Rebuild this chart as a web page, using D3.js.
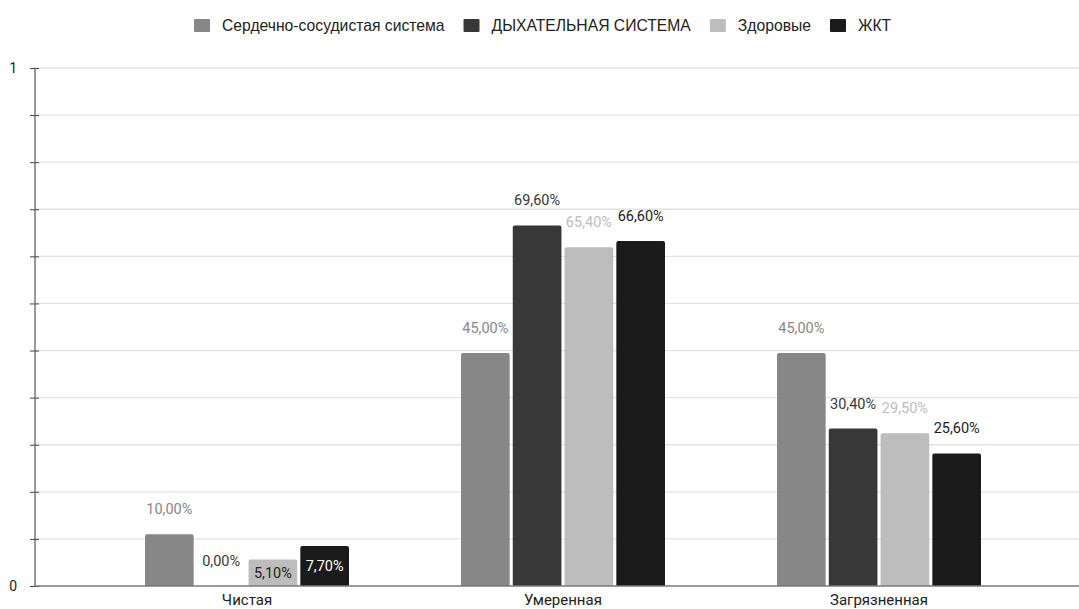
<!DOCTYPE html>
<html>
<head>
<meta charset="utf-8">
<script src="https://cdn.jsdelivr.net/npm/d3@7/dist/d3.min.js"></script>
<style>
  html, body { margin: 0; padding: 0; background: #fff; }
  svg { display: block; }
</style>
</head>
<body>
<svg id="chart" width="1079" height="609"></svg>
<script>
// Air quality zones
const categories = ["Чистая", "Умеренная", "Загрязненная"];
// Series (disease groups)
const seriesNames = ["Сердечно-сосудистая система", "ДЫХАТЕЛЬНАЯ СИСТЕМА", "Здоровые", "ЖКТ"];
const seriesColors = ["#878787", "#383838", "#bdbdbd", "#1b1b1b"];
// Shares per zone, one array per series
const cardio = [0.100, 0.450, 0.450];
const respiratory = [0.000, 0.696, 0.304];
const healthy = [0.051, 0.654, 0.295];
const digestive = [0.077, 0.666, 0.256];
const seriesValues = [cardio, respiratory, healthy, digestive];
const yTickLabels = ["0", "1"];
const yGridCount = 11;

const svg = d3.select("#chart");
const W = 1079, H = 609;
const margin = { left: 35, top: 68, bottom: 23 };
const plotBottom = H - margin.bottom;

const y = d3.scaleLinear().domain([0, 1]).range([plotBottom, margin.top]);
const x0 = d3.scaleBand().domain(categories).range([89, 1037]).paddingInner(0).paddingOuter(0);
const groupWidth = 204;
const x1 = d3.scaleBand().domain(seriesNames).range([0, groupWidth]).paddingInner(0.06).paddingOuter(0);

// gridlines
const gridVals = d3.range(yGridCount + 1).map(i => i / yGridCount);
svg.append("g").selectAll("line").data(gridVals.slice(1)).join("line")
  .attr("x1", margin.left).attr("x2", W)
  .attr("y1", d => y(d)).attr("y2", d => y(d))
  .attr("stroke", "#e3e3e3").attr("stroke-width", 1.3);

// y axis with ticks at every gridline
const yAxis = d3.axisLeft(y).tickValues(gridVals).tickSize(5)
  .tickFormat(d => d === 0 ? yTickLabels[0] : (d === 1 ? yTickLabels[1] : ""));
const gy = svg.append("g").attr("transform", `translate(${margin.left},0)`).call(yAxis);
gy.attr("font-size", null).attr("font-family", null);
gy.select(".domain").remove();
gy.selectAll(".tick line").attr("stroke", "#444").attr("x2", 4).attr("x1", -5);
gy.selectAll(".tick text").attr("x", -18)
  .style("font-family", "Roboto, sans-serif")
  .style("font-size", "14px").attr("fill", "#222");
svg.append("line").attr("x1", margin.left).attr("x2", margin.left)
  .attr("y1", margin.top).attr("y2", plotBottom).attr("stroke", "#555").attr("stroke-width", 1.2);

// bars
const groups = svg.append("g").selectAll("g").data(categories).join("g")
  .attr("transform", c => `translate(${x0(c) + x0.bandwidth() / 2 - groupWidth / 2},0)`);

groups.each(function (c, ci) {
  const g = d3.select(this);
  seriesNames.forEach((s, si) => {
    const v = seriesValues[si][ci];
    const bx = x1(s), bw = x1.bandwidth();
    if (v > 0) {
      g.append("path")
        .attr("d", () => {
          const top = y(v), bot = plotBottom, r = 2;
          return `M${bx},${bot}V${top + r}Q${bx},${top} ${bx + r},${top}H${bx + bw - r}Q${bx + bw},${top} ${bx + bw},${top + r}V${bot}Z`;
        })
        .attr("fill", seriesColors[si]);
    }
    const label = d3.format(".2f")(v * 100).replace(".", ",") + "%";
    const inside = v > 0 && v < 0.08;
    const t = g.append("text")
      .attr("x", bx + bw / 2)
      .attr("text-anchor", "middle")
      .attr("font-family", "Roboto, sans-serif")
      .attr("font-size", 14.5)
      .text(label);
    if (inside) {
      t.attr("y", (y(v) + plotBottom) / 2).attr("dy", "0.36em")
        .attr("fill", si === 3 ? "#ffffff" : "#222222");
    } else {
      t.attr("y", y(v) - 20).attr("fill", seriesColors[si]);
    }
  });
});

// baseline
svg.append("line").attr("x1", margin.left).attr("x2", W)
  .attr("y1", plotBottom).attr("y2", plotBottom).attr("stroke", "#7a7a7a").attr("stroke-width", 1.6);

// category labels
svg.append("g").selectAll("text").data(categories).join("text")
  .attr("x", c => x0(c) + x0.bandwidth() / 2)
  .attr("y", 605)
  .attr("text-anchor", "middle")
  .attr("font-family", "Roboto, sans-serif")
  .attr("font-size", 15)
  .attr("fill", "#222")
  .text(c => c);

// legend: squares and labels laid out left to right
const lg = svg.append("g").attr("transform", "translate(194,19)");
let lx = 0;
seriesNames.forEach((s, i) => {
  const item = lg.append("g").attr("transform", `translate(${lx},0)`);
  item.append("rect").attr("width", 16).attr("height", 13).attr("rx", 1).attr("fill", seriesColors[i]);
  const t = item.append("text").attr("x", 28).attr("y", 6.5).attr("dy", "0.35em")
    .attr("font-family", "'Liberation Sans', Arial, sans-serif")
    .attr("font-size", 15.7).attr("fill", "#222").text(s);
  lx += 28 + t.node().getComputedTextLength() + 19;
});
</script>
</body>
</html>
